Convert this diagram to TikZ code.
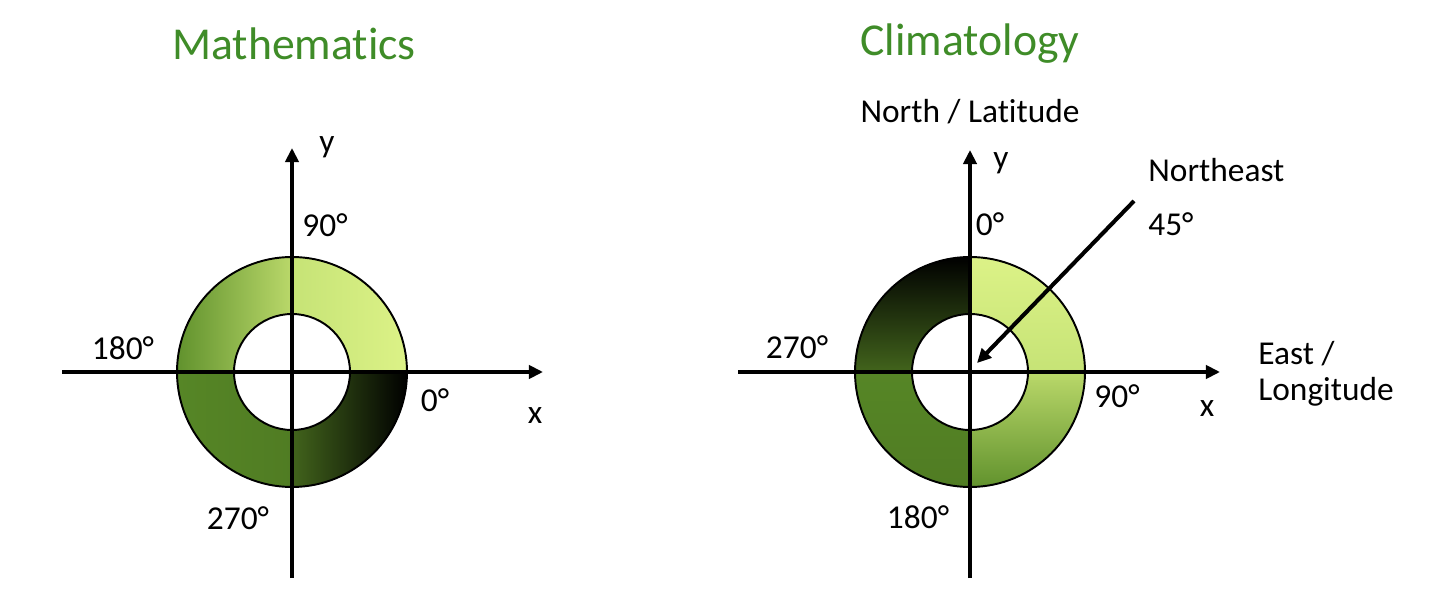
\documentclass[tikz,border=0pt]{standalone}
\usepackage{fontspec}
\setmainfont{Carlito}[Ligatures=NoCommon]
\usepackage{tikz}
\usetikzlibrary{arrows.meta}

\definecolor{titlegreen}{RGB}{63,140,40}
\definecolor{palegreen}{RGB}{220,242,135}
\definecolor{lightgreen}{RGB}{198,227,118}
\definecolor{midgreen}{RGB}{186,216,106}
\definecolor{leafgreen}{RGB}{97,146,45}
\definecolor{grassgreen}{RGB}{86,134,38}
\definecolor{mossgreen}{RGB}{80,124,35}
\definecolor{darkgreen}{RGB}{66,100,28}

\tikzset{
  axis/.style={line width=2.3pt, -{Triangle[length=8pt,width=7.5pt]}},
  ring/.style={draw=black, line width=1.1pt},
  lbl/.style={font=\fontsize{19}{23}\selectfont, inner sep=0pt},
  title/.style={font=\fontsize{26}{31}\selectfont, text=titlegreen, inner sep=0pt}
}

\begin{document}
\begin{tikzpicture}
    \useasboundingbox (0,0) rectangle (28.64,12.24);

    % Mathematics: angle counted anticlockwise from x
    \foreach \a/\cl/\cr in {0/lightgreen/palegreen, 90/leafgreen/midgreen,
                            180/grassgreen/mossgreen, 270/darkgreen/black}
      \shade[ring, left color=\cl, right color=\cr] (5.84,4.80) ++(\a:2.3)
        arc[start angle=\a, end angle=\a+90, radius=2.3] -- ++(\a+270:1.14)
        arc[start angle=\a+90, end angle=\a, radius=1.16] -- cycle;
    \coordinate (mxs) at (1.24,4.80);
    \coordinate (mxe) at (10.86,4.80);
    \coordinate (mys) at (5.84,0.68);
    \coordinate (mye) at (5.84,9.28);
    \draw[axis] (mxs) -- (mxe);
    \draw[axis] (mys) -- (mye);
    \node[title] (mtitle) at (5.88,11.36) {Mathematics};
    \node[lbl] (my) at (6.54,9.30) {y};
    \node[lbl] (mx) at (10.70,3.92) {x};
    \node[lbl] (m90) at (6.50,7.74) {90°};
    \node[lbl] (m180) at (2.46,5.28) {180°};
    \node[lbl] (m0) at (8.70,4.24) {0°};
    \node[lbl] (m270) at (4.76,1.88) {270°};

    % Climatology: angle counted clockwise from north
    \foreach \a/\ct/\cb in {0/palegreen/lightgreen, 270/midgreen/leafgreen,
                            180/grassgreen/mossgreen, 90/black/darkgreen}
      \shade[ring, top color=\ct, bottom color=\cb] (19.40,4.80) ++(\a:2.3)
        arc[start angle=\a, end angle=\a+90, radius=2.3] -- ++(\a+270:1.14)
        arc[start angle=\a+90, end angle=\a, radius=1.16] -- cycle;
    \coordinate (cxs) at (14.76,4.80);
    \coordinate (cxe) at (24.40,4.80);
    \coordinate (cys) at (19.40,0.68);
    \coordinate (cye) at (19.40,9.24);
    \coordinate (nes) at (22.68,8.22);
    \coordinate (nee) at (19.54,4.98);
    \draw[axis] (cxs) -- (cxe);
    \draw[axis] (cys) -- (cye);
    \draw[axis] (nes) -- (nee);
    \node[title] (ctitle) at (19.40,11.36) {Climatology};
    \node[lbl] (north) at (19.40,10.00) {North / Latitude};
    \node[lbl] (cy) at (20.02,8.98) {y};
    \node[lbl] (cx) at (24.14,4.06) {x};
    \node[lbl, anchor=west] (ne) at (22.96,8.84) {Northeast};
    \node[lbl, anchor=west] (c45) at (22.96,7.76) {45°};
    \node[lbl] (c0) at (19.80,7.76) {0°};
    \node[lbl] (c270) at (15.94,5.30) {270°};
    \node[lbl] (c90) at (22.34,4.32) {90°};
    \node[lbl] (c180) at (18.36,1.90) {180°};
    \node[lbl, anchor=west] (east) at (25.16,5.16) {East /};
    \node[lbl, anchor=west] (lon) at (25.16,4.40) {Longitude};
\end{tikzpicture}
\end{document}
